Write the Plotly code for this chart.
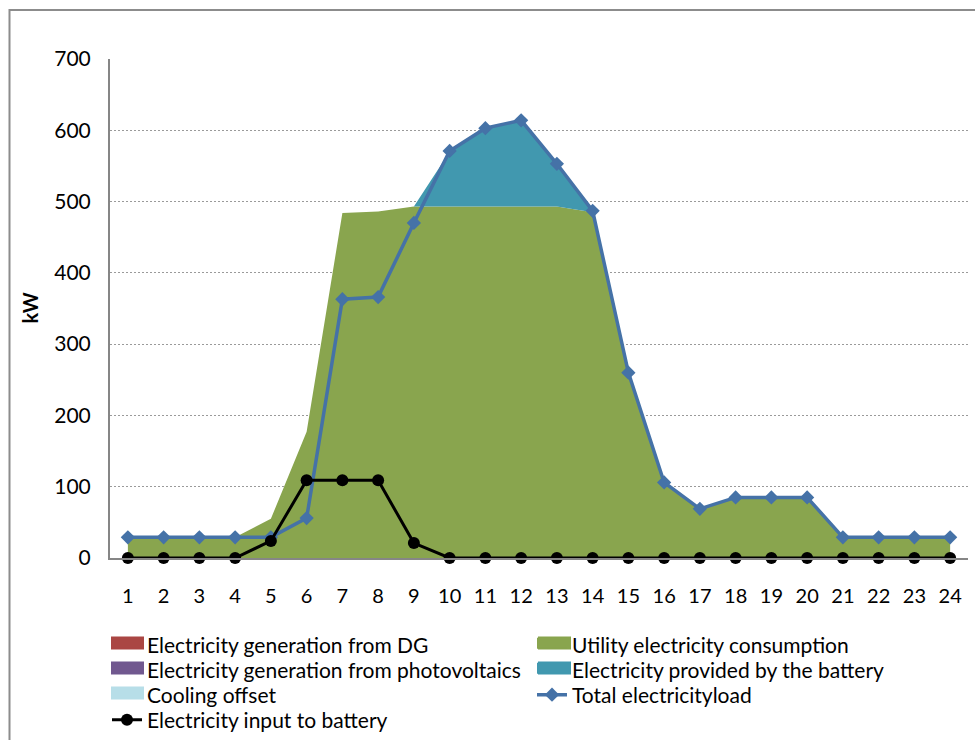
import plotly.graph_objects as go

# Hour of day
hours = list(range(1, 25))
hour_labels = [str(h) for h in hours]

# Hourly electricity components (kW)
dg_generation = [0, 0, 0, 0, 0, 0, 0, 0, 0, 0, 0, 0, 0, 0, 0, 0, 0, 0, 0, 0, 0, 0, 0, 0]
utility_consumption = [29, 29, 29, 29, 55, 177, 484, 486, 493, 493, 493, 493, 493, 485,
                       260, 106, 69, 85, 85, 85, 29, 29, 29, 29]
pv_generation = [0, 0, 0, 0, 0, 0, 0, 0, 0, 0, 0, 0, 0, 0, 0, 0, 0, 0, 0, 0, 0, 0, 0, 0]
battery_output = [0, 0, 0, 0, 0, 0, 0, 0, 0, 77, 110, 121, 60, 2, 0, 0, 0, 0, 0, 0, 0, 0, 0, 0]
cooling_offset = [0, 0, 0, 0, 0, 0, 0, 0, 0, 0, 0, 0, 0, 0, 0, 0, 0, 0, 0, 0, 0, 0, 0, 0]
total_load = [29, 29, 29, 29, 29, 56, 363, 366, 470, 571, 603, 614, 553, 487,
              260, 106, 69, 85, 85, 85, 29, 29, 29, 29]
battery_input = [0, 0, 0, 0, 24, 109, 109, 109, 21, 0, 0, 0, 0, 0, 0, 0, 0, 0, 0, 0, 0, 0, 0, 0]

y_ticks = [0, 100, 200, 300, 400, 500, 600, 700]

FONT = "Lato, 'Open Sans', sans-serif"

fig = go.Figure()

# (name, values, colour, legend row, legend column)
stacked = [
    ("Electricity generation from DG", dg_generation, "#AA4643", "legend", 0),
    ("Utility electricity consumption", utility_consumption, "#89A54E", "legend", 1),
    ("Electricity generation from photovoltaics", pv_generation, "#71588F", "legend2", 0),
    ("Electricity provided by the battery", battery_output, "#4198AF", "legend2", 1),
    ("Cooling offset", cooling_offset, "#B7DEE8", "legend3", 0),
]
# stacked areas (legend keys are added separately as block swatches)
for name, vals, color, _, _ in stacked:
    fig.add_trace(go.Scatter(
        x=hours, y=vals, name=name, mode="lines",
        stackgroup="energy", line=dict(width=0, color=color),
        fillcolor=color, showlegend=False, hoverinfo="x+y+name",
    ))

# legend entries for the stacked areas
for name, vals, color, leg, _ in stacked:
    fig.add_trace(go.Scatter(
        x=[None], y=[None], name=name, mode="lines", legend=leg,
        line=dict(width=10, color=color), fill="toself", fillcolor=color,
        hoverinfo="skip",
    ))

fig.add_trace(go.Scatter(
    x=hours, y=total_load, name="Total electricityload", mode="lines+markers",
    legend="legend3", cliponaxis=False,
    line=dict(color="#4572A7", width=3.5),
    marker=dict(symbol="diamond", size=11, color="#4572A7"),
))
fig.add_trace(go.Scatter(
    x=hours, y=battery_input, name="Electricity input to battery", mode="lines+markers",
    legend="legend4", cliponaxis=False,
    line=dict(color="#000000", width=3),
    marker=dict(symbol="circle", size=12, color="#000000"),
))

L, R, T, B = 110, 7, 59, 182
W, H = 975, 740
pw, ph = W - L - R, H - T - B


def px_x(p):
    return (p - L) / pw


def px_y(p):
    return (H - B - p) / ph


ROW_CENTERS = {"legend": 645, "legend2": 670, "legend3": 695, "legend4": 720}
COL_LEFT = [111, 538]


def legend_row(center_px):
    return dict(
        orientation="h", x=px_x(107), y=px_y(center_px), xanchor="left", yanchor="middle",
        entrywidth=380, entrywidthmode="pixels", itemwidth=30,
        font=dict(family=FONT, size=21, color="#000000"),
        bgcolor="rgba(0,0,0,0)", traceorder="normal",
    )


# taller block keys behind the legend swatches of the area series
shapes = []
for name, vals, color, leg, col in stacked:
    cy = ROW_CENTERS[leg] - 2
    shapes.append(dict(
        type="rect", xref="paper", yref="paper",
        x0=px_x(COL_LEFT[col]), x1=px_x(COL_LEFT[col] + 33),
        y0=px_y(cy + 6.5), y1=px_y(cy - 6.5),
        line=dict(width=0), fillcolor=color, layer="above",
    ))

# chart frame
shapes.append(dict(
    type="rect", xref="paper", yref="paper",
    x0=px_x(9.5), x1=px_x(990), y0=px_y(760), y1=px_y(10),
    line=dict(color="#8c8c8c", width=2), fillcolor="rgba(0,0,0,0)", layer="below",
))

fig.update_layout(
    width=W, height=H,
    margin=dict(l=L, r=R, t=T, b=B, autoexpand=False),
    paper_bgcolor="white", plot_bgcolor="white",
    font=dict(family=FONT, size=20, color="#000000"),
    showlegend=True,
    legend=legend_row(ROW_CENTERS["legend"]),
    legend2=legend_row(ROW_CENTERS["legend2"]),
    legend3=legend_row(ROW_CENTERS["legend3"]),
    legend4=legend_row(ROW_CENTERS["legend4"]),
    xaxis=dict(
        range=[0.5, 24.5], tickmode="array", tickvals=hours, ticktext=hour_labels,
        showgrid=False, zeroline=False, showline=True, linecolor="#868686", linewidth=1.5,
        ticks="outside", ticklen=19, tickcolor="rgba(0,0,0,0)", tickfont=dict(size=20),
        automargin=False,
    ),
    yaxis=dict(
        range=[0, 700], tickmode="array", tickvals=y_ticks,
        showgrid=True, gridcolor="#9a9a9a", gridwidth=1, griddash="2px,2px",
        zeroline=False, showline=True, linecolor="#868686", linewidth=2,
        ticks="outside", ticklen=13, tickcolor="rgba(0,0,0,0)", tickfont=dict(size=21),
        automargin=False,
    ),
    annotations=[dict(
        text="<b>kW</b>", xref="paper", yref="paper", x=px_x(29), y=0.5,
        xanchor="center", yanchor="middle", textangle=-90, showarrow=False,
        font=dict(family=FONT, size=20, color="#000000"),
    )],
    shapes=shapes,
)

fig.write_html("out.html")
